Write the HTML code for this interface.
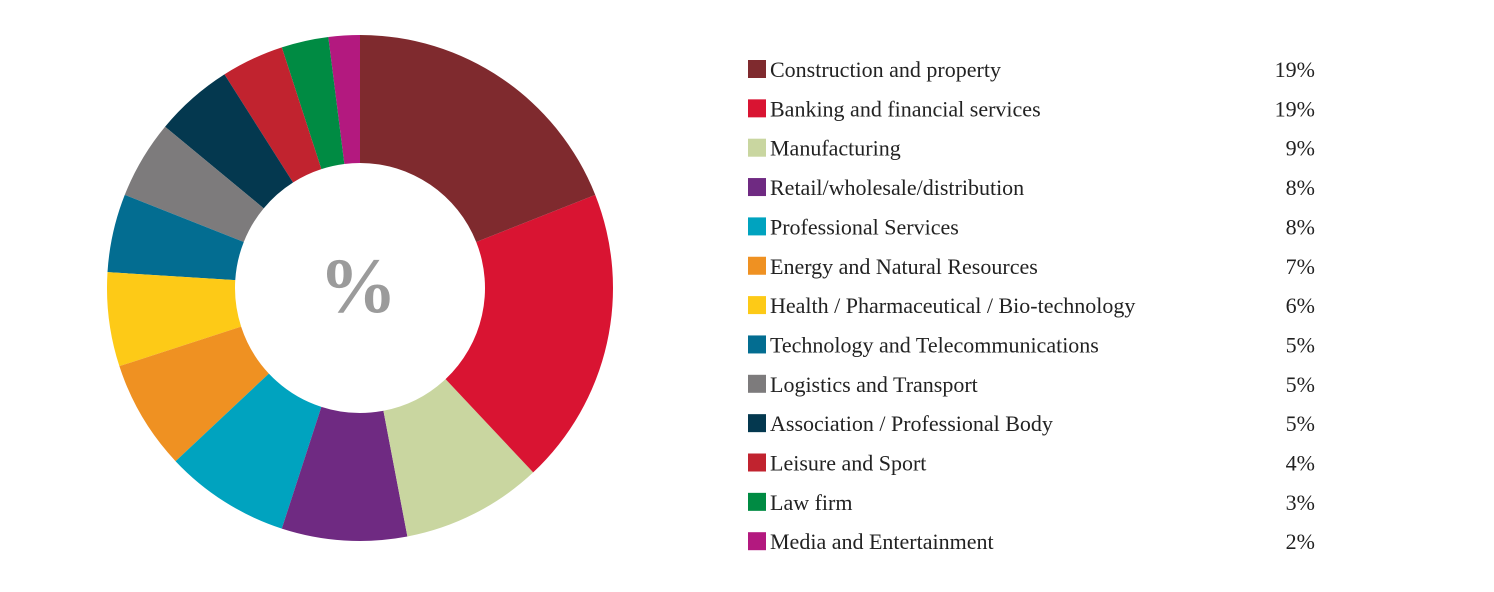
<!DOCTYPE html>
<html><head><meta charset="utf-8"><style>
body{margin:0;background:#fff;width:1494px;height:592px;overflow:hidden;font-family:"Liberation Serif",serif;}
svg{display:block}
</style></head><body>
<svg id="chart" width="1494" height="592">
<text x="358" y="312" text-anchor="middle" font-family="Liberation Serif, serif" font-size="78" font-weight="bold" fill="#9b9b9b">%</text>
</svg>
<script>
const categories=["Construction and property","Banking and financial services","Manufacturing","Retail/wholesale/distribution","Professional Services","Energy and Natural Resources","Health / Pharmaceutical / Bio-technology","Technology and Telecommunications","Logistics and Transport","Association / Professional Body","Leisure and Sport","Law firm","Media and Entertainment"];
const values=[19,19,9,8,8,7,6,5,5,5,4,3,2];
const labels=["19%","19%","9%","8%","8%","7%","6%","5%","5%","5%","4%","3%","2%"];
const colors=["#7f2a2e","#d91432","#c9d6a0","#6f2a82","#00a3bf","#ef9122","#fdca17","#036d91","#7d7b7c","#04384f","#c1232f","#008b43","#b3197f"];
const svg=document.getElementById('chart');
const NS='http://www.w3.org/2000/svg';
const cx=360,cy=288,R=253,r=125;
const total=values.reduce((a,b)=>a+b,0);
function pt(rad,a){return [cx+rad*Math.sin(a),cy-rad*Math.cos(a)];}
let acc=0;
values.forEach((v,i)=>{
  const a0=acc/total*2*Math.PI; acc+=v; const a1=acc/total*2*Math.PI;
  const large=(a1-a0)>Math.PI?1:0;
  const [x0,y0]=pt(R,a0),[x1,y1]=pt(R,a1),[x2,y2]=pt(r,a1),[x3,y3]=pt(r,a0);
  const p=document.createElementNS(NS,'path');
  p.setAttribute('d',`M${x0},${y0}A${R},${R} 0 ${large} 1 ${x1},${y1}L${x2},${y2}A${r},${r} 0 ${large} 0 ${x3},${y3}Z`);
  p.setAttribute('fill',colors[i]);
  
  
  svg.insertBefore(p,svg.firstChild);
});
const y0=69,dy=39.35;
categories.forEach((c,i)=>{
  const y=y0+i*dy;
  const g=document.createElementNS(NS,'g');
  
  
  const s=document.createElementNS(NS,'rect');
  s.setAttribute('x',748);s.setAttribute('y',y-9);s.setAttribute('width',18);s.setAttribute('height',18);
  s.setAttribute('fill',colors[i]);
  
  
  const t=document.createElementNS(NS,'text');
  t.setAttribute('x',770);t.setAttribute('y',y+8);t.setAttribute('font-size','22');t.setAttribute('fill','#222');
  t.textContent=c;
  
  
  const v=document.createElementNS(NS,'text');
  v.setAttribute('x',1315);v.setAttribute('y',y+8);v.setAttribute('font-size','22');v.setAttribute('fill','#222');v.setAttribute('text-anchor','end');
  v.textContent=labels[i];
  
  
  g.appendChild(s);g.appendChild(t);g.appendChild(v);svg.appendChild(g);
});
</script>
</body></html>
